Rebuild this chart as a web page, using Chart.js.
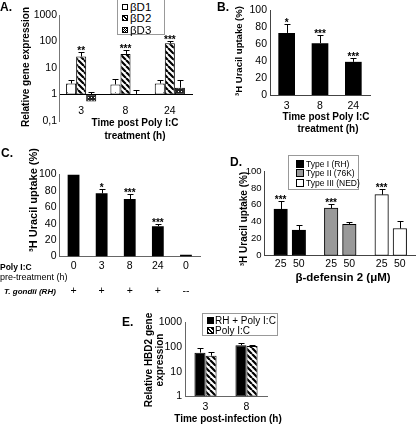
<!DOCTYPE html>
<html>
<head>
<meta charset="utf-8">
<script src="https://cdn.jsdelivr.net/npm/chart.js@4.4.0/dist/chart.umd.min.js"></script>
<style>
  html, body { margin: 0; padding: 0; background: #fff; }
  #fig { position: relative; width: 416px; height: 425px; overflow: hidden; color: #000;
         font-family: 'Liberation Sans', Arial, sans-serif; }
  #fig canvas { position: absolute; left: 0; top: 0; }
  .t { position: absolute; white-space: nowrap; line-height: 1; }
  .legend { position: absolute; border: 1px solid #999; background: #fff; box-sizing: border-box; }
  .sw { position: absolute; border: 1px solid #000; box-sizing: border-box; }
</style>
</head>
<body>
<div id="fig"></div>
<script>
// ---- A: relative beta-defensin expression after Poly I:C (log axis) ----
const hoursA = ['3', '8', '24'];
const seriesA = ['βD1', 'βD2', 'βD3'];
const bd1 = [2.6, 2.4, 2.6];
const bd1Err = [0.9, 1.4, 0.9];
const bd2 = [27, 34, 85];
const bd2Err = [12, 14, 22];
const bd3 = [0.55, 1.05, 1.8];
const bd3Err = [0.7, 0.45, 1.7];
const starsA = ['**', '***', '***'];
const ticksA = [0.1, 1, 10, 100, 1000];

// ---- B: uracil uptake after Poly I:C ----
const hoursB = ['3', '8', '24'];
const uptakeB = [73, 61, 39];
const uptakeBErr = [10, 10, 5];
const starsB = ['*', '***', '***'];

// ---- C: uracil uptake, pre-treatment + infection ----
const pretreatC = ['0', '3', '8', '24', '0'];
const infectedC = ['+', '+', '+', '+', '--'];
const uptakeC = [100, 77, 70, 37, 2];
const uptakeCErr = [0, 5, 6, 3, 0];
const starsC = ['', '*', '***', '***', ''];

// ---- D: uracil uptake vs beta-defensin 2 dose, per strain ----
const strainsD = ['Type I (RH)', 'Type II (76K)', 'Type III (NED)'];
const dosesD = ['25', '50'];
const uptakeD = [[55, 30], [56, 37], [72, 32]];
const uptakeDErr = [[10, 6], [5.5, 3], [7, 9]];
const starsD = ['***', ''];

// ---- E: HBD2 expression (log axis) ----
const hoursE = ['3', '8'];
const seriesE = ['RH + Poly I:C', 'Poly I:C'];
const rhPoly = [60, 120];
const rhPolyErr = [30, 25];
const polyOnly = [45, 112];
const polyOnlyErr = [20, 15];
const ticksE = [1, 10, 100, 1000];

const FONT = "'Liberation Sans', Arial, sans-serif";
const fig = document.getElementById('fig');

Chart.defaults.font.family = FONT;
Chart.defaults.color = '#000';
Chart.defaults.animation = false;
Chart.defaults.responsive = false;
Chart.defaults.plugins.legend.display = false;
Chart.defaults.plugins.tooltip.enabled = false;

// fill patterns for the hatched bars
const pattern = (size, draw) => {
  const c = document.createElement('canvas');
  c.width = c.height = size;
  const g = c.getContext('2d');
  draw(g, size);
  return g.createPattern(c, 'repeat');
};
const dots = pattern(8, (g, s) => {
  g.fillStyle = '#fff'; g.fillRect(0, 0, s, s);
  g.fillStyle = '#777'; g.fillRect(3, 4, 1, 1);
});
const stripes = pattern(6, (g, s) => {
  g.fillStyle = '#fff'; g.fillRect(0, 0, s, s);
  g.strokeStyle = '#000'; g.lineWidth = 2.2;
  g.beginPath();
  for (let k = -1; k <= 1; k++) { g.moveTo(k * s, 0); g.lineTo(k * s + s, s); }
  g.stroke();
});
const checks = pattern(3, (g, s) => {
  g.fillStyle = '#222'; g.fillRect(0, 0, s, s);
  g.fillStyle = '#fff'; g.fillRect(1, 1, 1, 1);
});

// error bars (upper whisker) + significance stars
const errorBars = {
  id: 'errorBars',
  afterDatasetsDraw(chart) {
    const { ctx } = chart;
    const y = chart.scales.y;
    ctx.save();
    ctx.strokeStyle = '#000';
    ctx.fillStyle = '#000';
    ctx.lineWidth = 1;
    ctx.font = 'bold 10px ' + FONT;
    ctx.textAlign = 'center';
    ctx.textBaseline = 'alphabetic';
    chart.data.datasets.forEach((ds, i) => {
      chart.getDatasetMeta(i).data.forEach((bar, j) => {
        const err = ds.errors ? ds.errors[j] : 0;
        const x = Math.round(bar.x) + 0.5;
        let top = bar.y;
        if (err) {
          top = Math.round(y.getPixelForValue(ds.values[j] + err)) + 0.5;
          ctx.beginPath();
          ctx.moveTo(x, bar.y);
          ctx.lineTo(x, top);
          ctx.moveTo(x - 3, top);
          ctx.lineTo(x + 3, top);
          ctx.stroke();
        }
        const star = ds.stars && ds.stars[j];
        if (star) ctx.fillText(star, bar.x, Math.min(top, bar.y) + 1.5);
      });
    });
    ctx.restore();
  }
};

const newCanvas = () => {
  const c = document.createElement('canvas');
  c.width = 416; c.height = 425;
  fig.appendChild(c);
  return c;
};
// layout padding that puts the plot area on the given page box
const padFor = (a, yW, xH) => ({ left: a.l - yW, top: a.t, right: 416 - a.r, bottom: 425 - a.b - xH });
const tickFont = { size: 10.5 };
const noGrid = { display: false, drawTicks: false };
const line = color => ({ display: true, color, width: 1 });
const yLinear = (color, size) => ({
  min: 0, max: 100,
  ticks: { stepSize: 20, padding: 3, font: { size } },
  grid: noGrid, border: line(color),
  afterFit: s => { s.width = 40; }
});

// ---------- A ----------
const areaA = { l: 59, r: 192, t: 15, b: 121 };
new Chart(newCanvas(), {
  type: 'bar',
  plugins: [errorBars],
  data: {
    labels: hoursA,
    datasets: [
      { label: seriesA[0], data: bd1.map(v => [1, v]), values: bd1, errors: bd1Err, backgroundColor: dots },
      { label: seriesA[1], data: bd2.map(v => [1, v]), values: bd2, errors: bd2Err, stars: starsA, backgroundColor: stripes },
      { label: seriesA[2], data: bd3.map(v => [1, v]), values: bd3, errors: bd3Err, backgroundColor: checks }
    ].map(d => ({ ...d, borderColor: '#000', borderWidth: 1, borderSkipped: false, categoryPercentage: 0.68, barPercentage: 1 }))
  },
  options: {
    layout: { padding: padFor(areaA, 40, 0) },
    scales: {
      x: { position: { y: 1 }, grid: noGrid, border: line('#000'), ticks: { padding: 10, font: tickFont } },
      y: {
        type: 'logarithmic', min: 0.1, max: 1000,
        afterBuildTicks: s => { s.ticks = ticksA.map(v => ({ value: v })); },
        ticks: { padding: 2, font: tickFont, callback: v => (v < 1 ? '0,1' : String(v)) },
        grid: noGrid, border: line('#777'),
        afterFit: s => { s.width = 40; }
      }
    }
  }
});

// ---------- B ----------
const areaB = { l: 270, r: 370, t: 10, b: 95 };
new Chart(newCanvas(), {
  type: 'bar',
  plugins: [errorBars],
  data: {
    labels: hoursB,
    datasets: [{ data: uptakeB, values: uptakeB, errors: uptakeBErr, stars: starsB, backgroundColor: '#000', categoryPercentage: 0.5, barPercentage: 1 }]
  },
  options: {
    layout: { padding: padFor(areaB, 40, 20) },
    scales: {
      x: { grid: noGrid, border: line('#444'), ticks: { padding: 5, font: tickFont }, afterFit: s => { s.height = 20; } },
      y: yLinear('#444', 10.5)
    }
  }
});

// ---------- C ----------
const areaC = { l: 59.5, r: 200, t: 174.5, b: 256.5 };
new Chart(newCanvas(), {
  type: 'bar',
  plugins: [errorBars],
  data: {
    labels: pretreatC.map((h, i) => [h, '', infectedC[i]]),
    datasets: [{ data: uptakeC, values: uptakeC, errors: uptakeCErr, stars: starsC, backgroundColor: '#000', categoryPercentage: 0.42, barPercentage: 1 }]
  },
  options: {
    layout: { padding: padFor(areaC, 40, 40) },
    scales: {
      x: { grid: noGrid, border: line('#666'), ticks: { padding: 4, font: { size: 10.5, lineHeight: 1.15 } }, afterFit: s => { s.height = 40; } },
      y: yLinear('#666', 10.5)
    }
  }
});

// ---------- D ----------
const areaD = { l: 264.5, r: 416, t: 171, b: 255.5 };
const colorsD = ['#000', '#999', '#fff'];
const posD = strainsD.flatMap((_, i) => [i + 1 - 0.18, i + 1 + 0.18]);
new Chart(newCanvas(), {
  type: 'bar',
  plugins: [errorBars],
  data: {
    datasets: strainsD.map((name, i) => ({
      label: name,
      data: dosesD.map((_, j) => ({ x: posD[i * 2 + j], y: uptakeD[i][j] })),
      values: uptakeD[i], errors: uptakeDErr[i], stars: starsD,
      backgroundColor: colorsD[i], borderColor: '#000', borderWidth: 1, borderSkipped: false,
      barThickness: 13.5, grouped: false
    }))
  },
  options: {
    layout: { padding: padFor(areaD, 40, 20) },
    scales: {
      x: {
        type: 'linear', min: 0.5, max: 3.5, offset: false,
        afterBuildTicks: s => { s.ticks = posD.map(v => ({ value: v })); },
        ticks: { padding: 2, font: tickFont, callback: (v, i) => dosesD[i % 2] },
        grid: noGrid, border: line('#444'),
        afterFit: s => { s.height = 20; }
      },
      y: yLinear('#444', 9.5)
    }
  }
});

// ---------- E ----------
const areaE = { l: 185, r: 267, t: 322.5, b: 396.5 };
new Chart(newCanvas(), {
  type: 'bar',
  plugins: [errorBars],
  data: {
    labels: hoursE,
    datasets: [
      { label: seriesE[0], data: rhPoly, values: rhPoly, errors: rhPolyErr, backgroundColor: '#000' },
      { label: seriesE[1], data: polyOnly, values: polyOnly, errors: polyOnlyErr, backgroundColor: stripes }
    ].map(d => ({ ...d, borderColor: '#000', borderWidth: 1, borderSkipped: false, categoryPercentage: 0.54, barPercentage: 1 }))
  },
  options: {
    layout: { padding: padFor(areaE, 40, 20) },
    scales: {
      x: { grid: noGrid, border: line('#666'), ticks: { padding: 4, font: tickFont }, afterFit: s => { s.height = 20; } },
      y: {
        type: 'logarithmic', min: 1, max: 1000,
        afterBuildTicks: s => { s.ticks = ticksE.map(v => ({ value: v })); },
        ticks: { padding: 3, font: tickFont, callback: v => String(v) },
        grid: noGrid, border: line('#666'),
        afterFit: s => { s.width = 40; }
      }
    }
  }
});

// ---------- text: panel letters, axis titles, row labels ----------
const txt = (s, x, y, font, opts = {}) => {
  const d = document.createElement('div');
  d.className = 't';
  d.textContent = s;
  d.style.left = x + 'px';
  d.style.top = y + 'px';
  d.style.font = font + ' ' + FONT;
  let tf = opts.left ? 'translate(0,-50%)' : 'translate(-50%,-50%)';
  if (opts.rot) tf += ' rotate(-90deg)';
  d.style.transform = tf;
  fig.appendChild(d);
};

txt('A.', 0, 7, 'bold 12px', { left: true });
txt('Relative gene expression', 25, 67, 'bold 10px', { rot: true });
txt('Time post Poly I:C', 135, 122, 'bold 10px');
txt('treatment (h)', 135, 135, 'bold 10px');

txt('B.', 217, 7, 'bold 12px', { left: true });
txt('³H Uracil uptake (%)', 238, 51, 'bold 9.5px', { rot: true });
txt('Time post Poly I:C', 326, 116, 'bold 10px');
txt('treatment (h)', 328, 128, 'bold 10px');

txt('C.', 1, 153, 'bold 12px', { left: true });
txt('³H Uracil uptake (%)', 33, 200, 'bold 11px', { rot: true });
txt('Poly I:C', 0, 267, 'bold 8.5px', { left: true });
txt('pre-treatment (h)', 0, 277, '9px', { left: true });
txt('T. gondii (RH)', 4, 291, 'italic bold 8px', { left: true });

txt('D.', 230, 162, 'bold 12px', { left: true });
txt('³H Uracil uptake (%)', 243, 219, 'bold 10px', { rot: true });
txt('β-defensin 2 (μM)', 343, 277, 'bold 11.5px');

txt('E.', 122, 322, 'bold 12px', { left: true });
txt('Relative HBD2 gene', 148, 360, 'bold 10px', { rot: true });
txt('expression', 159, 360, 'bold 10px', { rot: true });
txt('Time post-infection (h)', 228, 418, 'bold 10px');

// ---------- legends ----------
const legend = (box, labels, swatches, font, sw, rowH, textX) => {
  const d = document.createElement('div');
  d.className = 'legend';
  Object.assign(d.style, { left: box.l + 'px', top: box.t + 'px', width: box.w + 'px', height: box.h + 'px' });
  labels.forEach((lab, i) => {
    const cy = box.pad + rowH * (i + 0.5);
    const s = document.createElement('div');
    s.className = 'sw';
    Object.assign(s.style, { left: box.swx + 'px', top: (cy - sw / 2) + 'px', width: sw + 'px', height: sw + 'px', background: swatches[i] });
    d.appendChild(s);
    const t = document.createElement('div');
    t.className = 't';
    t.textContent = lab;
    Object.assign(t.style, { left: textX + 'px', top: cy + 'px', font: font + ' ' + FONT, transform: 'translate(0,-50%)' });
    d.appendChild(t);
  });
  fig.appendChild(d);
};
const cssStripes = 'repeating-linear-gradient(45deg, #000 0 1.4px, #fff 1.4px 2.8px)';
const cssChecks = 'repeating-conic-gradient(#000 0 25%, #fff 0 50%) 0 0/2px 2px';

legend({ l: 117, t: -1, w: 48, h: 36, pad: 1, swx: 4 }, seriesA, ['#fff', cssStripes, cssChecks], '11.5px', 6, 11.5, 12);
legend({ l: 288, t: 155, w: 71, h: 35, pad: 3, swx: 7 }, strainsD, colorsD, '8.5px', 8, 9.5, 17);
legend({ l: 202, t: 313, w: 76, h: 23, pad: 1, swx: 4 }, seriesE, ['#000', cssStripes], '10px', 7, 10, 12);
</script>
</body>
</html>
